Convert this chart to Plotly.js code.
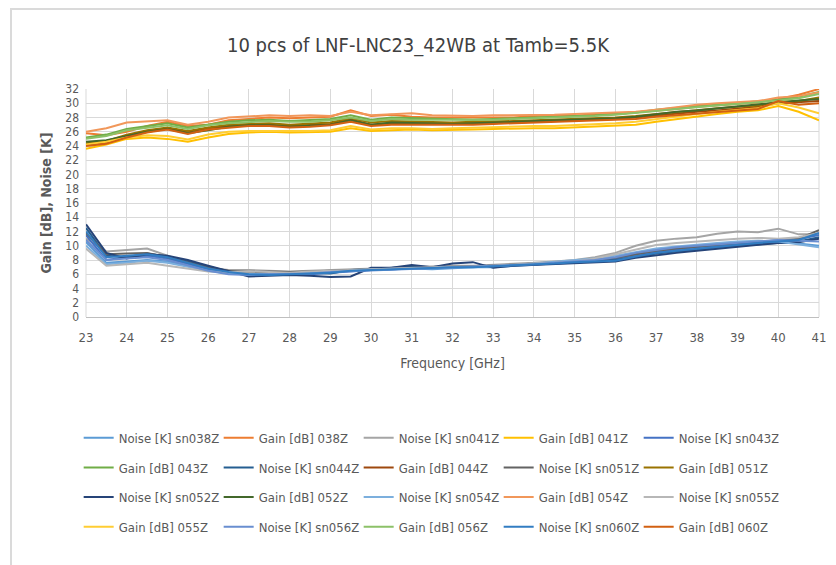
<!DOCTYPE html>
<html>
<head>
<meta charset="utf-8">
<script src="https://cdn.plot.ly/plotly-3.0.1.min.js"></script>
<style>
  html, body { margin: 0; padding: 0; background: #ffffff; }
  #wrap { position: relative; width: 836px; height: 565px; overflow: hidden; }
  #chart { width: 836px; height: 565px; }
  #frame { position: absolute; left: 10px; top: 8px; width: 900px; height: 700px;
           border-top: 2px solid #dadada; border-left: 2px solid #dadada; pointer-events: none; }
</style>
</head>
<body>
<div id="wrap"><div id="chart"></div><div id="frame"></div></div>
<script>
// Frequency axis (GHz)
const freq = [23,23.5,24,24.5,25,25.5,26,26.5,27,27.5,28,28.5,29,29.5,30,30.5,31,31.5,32,32.5,33,33.5,34,34.5,35,35.5,36,36.5,37,37.5,38,38.5,39,39.5,40,40.5,41];
const xTicks = [23,24,25,26,27,28,29,30,31,32,33,34,35,36,37,38,39,40,41];
const yTicks = [0,2,4,6,8,10,12,14,16,18,20,22,24,26,28,30,32];

// Noise [K]
const noise038 = [10.5,7.6,7.8,8.0,7.8,7.2,6.6,6.2,5.9,5.9,6.0,6.1,6.3,6.5,6.6,6.6,6.8,6.7,6.9,7.0,7.0,7.2,7.3,7.5,7.6,7.9,8.1,8.6,9.0,9.3,9.5,9.9,10.1,10.4,10.6,10.3,10.0];
const noise041 = [11.0,9.2,9.4,9.6,8.6,7.6,6.9,6.6,6.6,6.5,6.4,6.5,6.6,6.8,6.9,7.0,7.0,7.1,7.2,7.2,7.3,7.4,7.6,7.8,8.0,8.4,9.0,10.0,10.7,11.0,11.2,11.7,12.0,11.9,12.4,11.6,11.6];
const noise043 = [11.5,8.0,8.4,8.6,8.2,7.4,6.7,6.2,6.0,6.0,6.1,6.0,6.2,6.5,6.6,6.7,6.8,6.8,6.9,7.0,7.1,7.2,7.4,7.5,7.7,7.9,8.2,8.8,9.2,9.5,9.8,10.1,10.3,10.5,10.8,10.9,11.5];
const noise044 = [12.5,8.6,8.4,8.9,8.5,7.8,7.0,6.4,6.1,6.2,6.0,6.2,6.1,6.6,6.7,6.9,7.1,7.0,7.0,7.1,7.2,7.3,7.4,7.6,7.7,7.8,8.0,8.5,8.9,9.2,9.4,9.8,10.0,10.3,10.5,10.6,11.2];
const noise051 = [11.8,8.8,8.9,9.0,8.4,7.6,6.9,6.5,6.3,6.4,6.3,6.4,6.5,6.7,6.8,6.9,6.9,7.0,7.1,7.1,7.2,7.3,7.5,7.6,7.8,8.0,8.3,8.8,9.3,9.6,9.9,10.2,10.4,10.6,10.7,11.0,12.2];
const noise052 = [13.0,9.0,8.2,8.8,8.6,8.0,7.2,6.4,5.7,5.8,5.9,5.8,5.6,5.7,6.9,6.9,7.3,7.0,7.5,7.7,6.9,7.2,7.3,7.4,7.6,7.7,7.8,8.3,8.7,9.0,9.3,9.6,9.9,10.1,10.4,10.5,11.0];
const noise054 = [10.0,7.4,7.6,7.9,7.6,7.0,6.5,6.1,6.0,6.0,6.1,6.2,6.3,6.5,6.7,6.8,6.8,6.9,7.0,7.0,7.1,7.3,7.5,7.7,7.9,8.2,8.6,9.1,9.6,9.9,10.2,10.4,10.6,10.7,10.6,10.2,9.8];
const noise055 = [9.6,7.2,7.4,7.6,7.2,6.8,6.4,6.3,6.4,6.3,6.2,6.4,6.5,6.7,6.8,6.9,6.9,7.0,7.1,7.1,7.2,7.3,7.4,7.6,7.8,8.2,8.8,9.5,10.1,10.4,10.6,10.9,11.0,11.1,11.0,11.2,11.8];
const noise056 = [10.8,8.0,8.2,8.4,8.0,7.2,6.5,6.0,5.9,6.0,6.0,6.1,6.3,6.4,6.6,6.7,6.8,6.8,6.9,7.0,7.1,7.2,7.4,7.6,7.8,8.0,8.4,9.0,9.4,9.8,10.0,10.2,10.4,10.6,10.8,10.7,10.6];
const noise060 = [12.0,8.4,8.6,8.8,8.4,7.6,6.8,6.3,6.0,5.9,6.0,6.1,6.2,6.5,6.6,6.7,6.9,6.9,7.0,7.0,7.1,7.2,7.4,7.5,7.7,7.8,7.9,8.5,9.0,9.3,9.6,9.9,10.1,10.4,10.6,10.8,11.8];

// Gain [dB]
const gain038 = [25.8,25.5,26.0,26.8,27.4,26.8,27.0,27.6,27.8,28.0,27.9,28.0,28.1,29.0,28.2,28.4,28.1,28.0,28.0,27.9,28.0,28.0,28.2,28.3,28.2,28.5,28.5,28.7,28.9,29.2,29.5,29.7,29.9,30.1,30.6,31.2,32.0];
const gain041 = [23.6,24.2,25.0,25.2,25.0,24.6,25.2,25.7,25.9,26.0,25.9,25.9,26.0,26.5,26.1,26.2,26.3,26.2,26.2,26.3,26.4,26.5,26.5,26.5,26.6,26.7,26.8,27.0,27.4,27.8,28.2,28.5,28.8,29.0,29.6,28.8,27.6];
const gain043 = [25.2,25.6,26.4,26.8,27.2,26.6,27.0,27.4,27.6,27.7,27.5,27.6,27.8,28.3,27.7,28.0,27.9,27.8,27.8,27.7,27.8,27.9,28.0,28.1,28.1,28.3,28.5,28.7,29.1,29.4,29.6,29.8,30.0,30.2,30.5,30.9,31.6];
const gain044 = [24.2,24.5,25.4,26.1,26.5,26.0,26.5,26.8,26.9,27.0,26.8,26.9,27.1,27.7,27.0,27.2,27.2,27.1,27.1,27.1,27.2,27.3,27.4,27.4,27.5,27.6,27.8,28.0,28.3,28.6,28.8,29.0,29.3,29.5,30.0,30.1,30.3];
const gain051 = [24.4,24.7,25.6,26.2,26.6,26.1,26.6,27.0,27.1,27.2,27.0,27.1,27.3,27.9,27.3,27.5,27.4,27.3,27.3,27.4,27.4,27.5,27.6,27.7,27.7,27.9,28.0,28.2,28.5,28.8,29.1,29.3,29.5,29.7,30.2,30.3,30.8];
const gain052 = [24.6,24.8,25.4,26.0,26.4,25.8,26.2,26.7,26.9,26.9,26.7,26.8,27.0,27.6,27.0,27.3,27.2,27.1,27.1,27.2,27.3,27.4,27.5,27.5,27.6,27.7,27.9,28.1,28.5,28.8,29.0,29.3,29.5,29.8,30.2,30.4,30.6];
const gain054 = [26.0,26.5,27.3,27.4,27.6,27.0,27.4,28.0,28.2,28.3,28.2,28.3,28.2,28.8,28.3,28.5,28.6,28.3,28.2,28.2,28.3,28.3,28.4,28.4,28.5,28.6,28.8,28.8,29.1,29.5,29.8,30.0,30.1,30.3,30.8,31.0,31.5];
const gain055 = [24.2,24.6,25.2,25.5,25.4,24.9,25.6,26.0,26.1,26.1,26.0,26.1,26.2,26.8,26.3,26.5,26.5,26.4,26.5,26.6,26.6,26.7,26.8,26.8,26.9,27.0,27.2,27.4,27.8,28.1,28.5,28.8,29.1,29.3,30.0,29.4,28.6];
const gain056 = [25.0,25.4,26.2,26.6,26.9,26.4,26.9,27.2,27.4,27.5,27.4,27.4,27.6,28.0,27.5,27.8,27.7,27.7,27.6,27.6,27.7,27.8,27.9,28.0,28.0,28.2,28.4,28.6,28.9,29.2,29.5,29.7,29.9,30.1,30.4,30.7,31.3];
const gain060 = [24.0,24.3,25.2,25.9,26.3,25.7,26.3,26.6,26.8,26.8,26.6,26.7,26.9,27.4,26.8,27.0,27.0,26.9,26.9,27.0,27.1,27.2,27.3,27.3,27.4,27.5,27.6,27.8,28.1,28.3,28.5,28.7,28.9,29.2,30.3,29.8,30.0];

const seriesNames = ["Noise [K] sn038Z","Gain [dB] 038Z","Noise [K] sn041Z","Gain [dB] 041Z","Noise [K] sn043Z",
  "Gain [dB] 043Z","Noise [K] sn044Z","Gain [dB] 044Z","Noise [K] sn051Z","Gain [dB] 051Z",
  "Noise [K] sn052Z","Gain [dB] 052Z","Noise [K] sn054Z","Gain [dB] 054Z","Noise [K] sn055Z",
  "Gain [dB] 055Z","Noise [K] sn056Z","Gain [dB] 056Z","Noise [K] sn060Z","Gain [dB] 060Z"];
const seriesValues = [noise038,gain038,noise041,gain041,noise043,gain043,noise044,gain044,noise051,gain051,
  noise052,gain052,noise054,gain054,noise055,gain055,noise056,gain056,noise060,gain060];
const seriesColors = ["#5B9BD5","#ED7D31","#A5A5A5","#FFC000","#4472C4","#70AD47","#255E91","#9E480E","#636363","#997300",
  "#264478","#43682B","#7CAFDD","#F1975A","#B7B7B7","#FFCD33","#698ED0","#8CC168","#327DC2","#D26012"];

const legendIds = ["legend","legend2","legend3","legend4"];
const traces = seriesNames.map((n, i) => ({
  type: "scatter", mode: "lines", name: n, x: freq, y: seriesValues[i],
  line: { color: seriesColors[i], width: 2 },
  legend: legendIds[Math.floor(i / 5)]
}));

const narrow = "Liberation Sans Narrow, DejaVu Sans Condensed, sans-serif";
const tickFont = { family: narrow, size: 12, color: "#595959" };
const legFont = { family: narrow, size: 13, color: "#595959" };
function leg(y) {
  return { orientation: "h", x: -0.01, xanchor: "left", y: y, yanchor: "middle",
           font: legFont, entrywidth: 95, entrywidthmode: "pixels", itemwidth: 30,
           bgcolor: "rgba(0,0,0,0)", traceorder: "normal" };
}

const layout = {
  width: 836, height: 565,
  paper_bgcolor: "#ffffff", plot_bgcolor: "#ffffff",
  margin: { l: 86, r: 17, t: 89, b: 248 },
  title: { text: "10 pcs of LNF-LNC23_42WB at Tamb=5.5K", x: 0.5, xanchor: "center", y: 0.92, yanchor: "middle",
           font: { family: narrow, size: 20, color: "#404040" } },
  xaxis: {
    range: [23, 41], tickvals: xTicks, ticktext: xTicks.map(String), tickfont: { family: narrow, size: 13, color: "#595959" },
    showgrid: true, gridcolor: "#d9d9d9", gridwidth: 1, zeroline: false,
    showline: true, linecolor: "#bfbfbf", linewidth: 1, ticks: "", ticklen: 0, ticklabelstandoff: 8,
    title: { text: "Frequency [GHz]", font: { family: narrow, size: 14, color: "#595959" }, standoff: 14 }
  },
  yaxis: {
    range: [0, 32], tickvals: yTicks, ticktext: yTicks.map(String), tickfont: tickFont,
    showgrid: true, gridcolor: "#d9d9d9", gridwidth: 1, zeroline: false,
    showline: false, ticks: "", ticklabelstandoff: 6,
    title: { text: "<b>Gain [dB], Noise [K]</b>", font: { family: narrow, size: 14, color: "#595959" }, standoff: 10 }
  },
  shapes: [
    { type: "line", xref: "paper", yref: "paper", x0: 0, x1: 0, y0: 0, y1: 1, line: { color: "#d9d9d9", width: 1 }, layer: "below" },
    { type: "line", xref: "paper", yref: "paper", x0: 1, x1: 1, y0: 0, y1: 1, line: { color: "#d9d9d9", width: 1 }, layer: "below" }
  ],
  legend: leg(-0.53),
  legend2: leg(-0.66),
  legend3: leg(-0.79),
  legend4: leg(-0.92),
  showlegend: true
};

Plotly.newPlot("chart", traces, layout, { displayModeBar: false, staticPlot: true });
</script>
</body>
</html>
